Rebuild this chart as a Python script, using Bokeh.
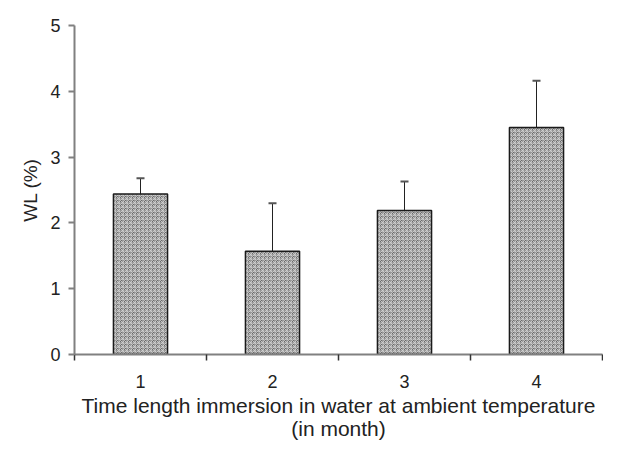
from bokeh.plotting import figure
from bokeh.models import ColumnDataSource, FixedTicker, LinearAxis, Whisker, TeeHead, Range1d
from bokeh.embed import file_html
from bokeh.resources import INLINE

months = [1, 2, 3, 4]
wl = [2.44, 1.57, 2.19, 3.45]
err = [0.24, 0.73, 0.44, 0.71]
y_ticks = [0, 1, 2, 3, 4, 5]
x_labels = ["1", "2", "3", "4"]

lower = [v - e for v, e in zip(wl, err)]
upper = [v + e for v, e in zip(wl, err)]
src = ColumnDataSource(dict(x=months, top=wl, lower=lower, upper=upper))

p = figure(width=603, height=442, output_backend="svg", toolbar_location=None,
           x_range=Range1d(0.5, 4.5), y_range=Range1d(0, 5),
           min_border_left=74, min_border_right=1, min_border_top=25, min_border_bottom=10)
p.outline_line_color = None
p.xgrid.visible = False
p.ygrid.visible = False
p.background_fill_color = "white"

p.vbar(x="x", top="top", width=0.41, source=src, fill_color="#6a6a6a",
       line_color="#1a1a1a", line_width=1.5,
       hatch_pattern="criss_cross", hatch_color="#d0d0d0", hatch_scale=4, hatch_weight=1, hatch_alpha=0.9)

wh = Whisker(base="x", lower="lower", upper="upper", source=src,
             line_color="#222222", line_width=1,
             upper_head=TeeHead(size=8, line_color="#555555", line_width=2),
             lower_head=TeeHead(size=5, line_color="#222222", line_width=2))
p.add_layout(wh)

font = "Liberation Sans"
ax_col = "#808080"

# y axis
p.yaxis.ticker = FixedTicker(ticks=y_ticks)
p.yaxis.axis_line_color = ax_col
p.yaxis.axis_line_width = 2
p.yaxis.major_tick_line_color = ax_col
p.yaxis.major_tick_line_width = 2
p.yaxis.major_tick_in = 0
p.yaxis.major_tick_out = 6
p.yaxis.minor_tick_line_color = None
p.yaxis.major_label_text_font = font
p.yaxis.major_label_text_font_size = "18px"
p.yaxis.major_label_text_color = "#222222"
p.yaxis.major_label_standoff = 8
p.yaxis.axis_label = "WL (%)"
p.yaxis.axis_label_text_font = font
p.yaxis.axis_label_text_font_size = "19px"
p.yaxis.axis_label_text_font_style = "normal"
p.yaxis.axis_label_text_color = "#222222"
p.yaxis.axis_label_standoff = 6

# x axis: boundary ticks
p.xaxis.ticker = FixedTicker(ticks=[0.5, 1.5, 2.5, 3.5, 4.5])
p.xaxis.major_label_overrides = {0.5: "", 1.5: "", 2.5: "", 3.5: "", 4.5: ""}
p.xaxis.major_label_text_font_size = "1px"
p.xaxis.major_label_standoff = 0
p.xaxis.axis_line_color = ax_col
p.xaxis.axis_line_width = 2
p.xaxis.major_tick_line_color = "#333333"
p.xaxis.major_tick_line_width = 1.5
p.xaxis.major_tick_in = 0
p.xaxis.major_tick_out = 6
p.xaxis.minor_tick_line_color = None

# x axis: labels at category centers
lab = LinearAxis(ticker=FixedTicker(ticks=months),
                 major_label_overrides={m: s for m, s in zip(months, x_labels)})
lab.axis_line_color = None
lab.major_tick_line_color = None
lab.minor_tick_line_color = None
lab.major_tick_out = 0
lab.major_tick_in = 0
lab.major_label_standoff = 14
lab.major_label_text_font = font
lab.major_label_text_font_size = "18px"
lab.major_label_text_color = "#222222"
lab.axis_label = "Time length immersion in water at ambient temperature\n(in month)"
lab.axis_label_text_font = font
lab.axis_label_text_font_size = "21px"
lab.axis_label_text_font_style = "normal"
lab.axis_label_text_color = "#222222"
lab.axis_label_text_line_height = 1.0
lab.axis_label_standoff = 3
p.add_layout(lab, "below")

open("out.html", "w").write(file_html(p, INLINE))
